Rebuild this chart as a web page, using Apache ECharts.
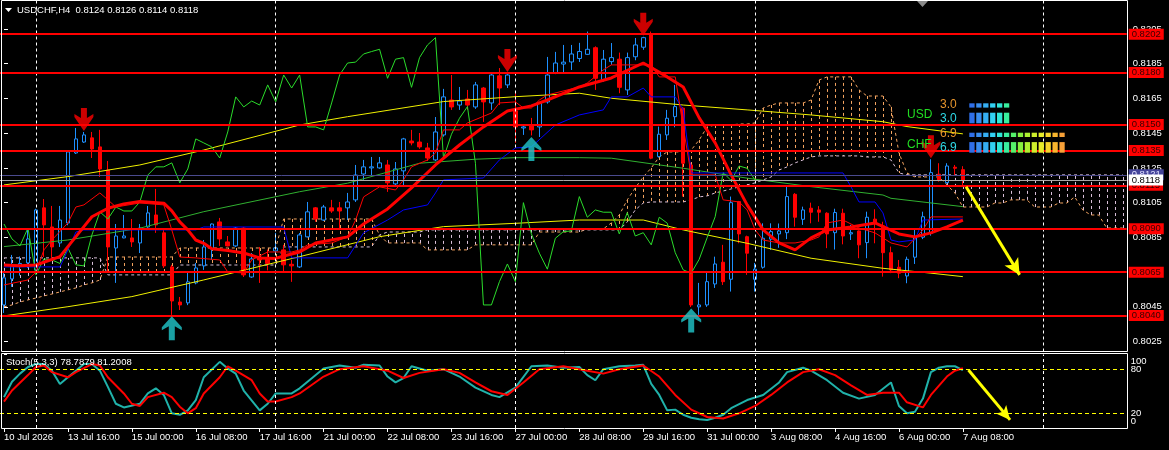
<!DOCTYPE html>
<html><head><meta charset="utf-8"><title>USDCHF H4</title>
<script src="https://cdn.jsdelivr.net/npm/echarts@6/dist/echarts.min.js"></script>
<style>html,body{margin:0;padding:0;background:#000;overflow:hidden}#chart{width:1169px;height:450px}</style>
</head><body><div id="chart"></div>
<script>
// ---------------- data ----------------
const symbolName = 'USDCHF,H4';
const opens = [0.80461,0.80611,0.80686,0.80703,0.80663,0.81020,0.80910,0.80818,0.80933,0.81336,
0.81399,0.81423,0.81371,0.81238,0.80789,0.80847,0.80847,0.80818,0.80910,0.80979,
0.80876,0.80680,0.80478,0.80473,0.80588,0.80686,0.80784,0.80939,0.80824,0.80801,
0.80904,0.80622,0.80737,0.80730,0.80772,0.80778,0.80695,0.80680,0.80853,0.81020,
0.80950,0.81020,0.81020,0.81020,0.81066,0.81215,0.81250,0.81250,0.81267,0.81158,
0.81233,0.81405,0.81399,0.81365,0.81296,0.81440,0.81641,0.81612,0.81647,0.81601,
0.81710,0.81624,0.81780,0.81728,0.81578,0.81480,0.81492,0.81486,0.81630,0.81797,
0.81848,0.81860,0.81880,0.81904,0.81942,0.81756,0.81862,0.81876,0.81699,0.81890,
0.81945,0.82016,0.81315,0.81440,0.81545,0.81594,0.81267,0.80450,0.80461,0.80582,
0.80707,0.80609,0.81056,0.80854,0.80609,0.80678,0.80840,0.80870,0.80877,0.81098,
0.80954,0.81018,0.81008,0.80989,0.80877,0.80989,0.80870,0.80887,0.80820,0.80955,
0.80916,0.80762,0.80678,0.80628,0.80736,0.80851,0.80874,0.81214,0.81165,0.81254,
0.8124];
const highs = [0.80645,0.80749,0.80740,0.80893,0.81015,0.81071,0.81031,0.81031,0.81353,0.81480,
0.81457,0.81457,0.81469,0.81290,0.80927,0.80979,0.80956,0.80927,0.81031,0.81129,
0.80895,0.80692,0.80507,0.80645,0.80703,0.80835,0.80930,0.80962,0.80858,0.80910,
0.80910,0.80760,0.80795,0.80780,0.80876,0.80807,0.80720,0.80875,0.81054,0.81025,
0.81037,0.81066,0.81054,0.81106,0.81267,0.81296,0.81313,0.81313,0.81296,0.81284,
0.81423,0.81469,0.81451,0.81394,0.81543,0.81705,0.81785,0.81716,0.81699,0.81745,
0.81716,0.81802,0.81825,0.81797,0.81687,0.81497,0.81538,0.81630,0.81889,0.81918,
0.81958,0.81958,0.81970,0.82035,0.81950,0.81929,0.81969,0.81914,0.81914,0.81998,
0.82005,0.82035,0.81488,0.81584,0.81728,0.81600,0.81280,0.80588,0.80645,0.80739,
0.80807,0.81085,0.81060,0.80860,0.80703,0.80931,0.80931,0.80930,0.81142,0.81105,
0.81027,0.81050,0.81030,0.80995,0.81015,0.81015,0.80922,0.80890,0.80998,0.81012,
0.80940,0.80797,0.80720,0.80739,0.80893,0.80998,0.81300,0.81277,0.81277,0.81267,
0.8126];
const lows = [0.80415,0.80565,0.80630,0.80674,0.80650,0.80737,0.80732,0.80795,0.80920,0.81330,
0.81394,0.81307,0.81198,0.80645,0.80588,0.80845,0.80795,0.80760,0.80905,0.80876,
0.80674,0.80404,0.80432,0.80460,0.80580,0.80663,0.80720,0.80801,0.80798,0.80795,
0.80622,0.80617,0.80588,0.80660,0.80765,0.80645,0.80594,0.80674,0.80850,0.80940,
0.80945,0.80991,0.80893,0.80950,0.81054,0.81181,0.81198,0.81245,0.81112,0.81150,
0.81140,0.81380,0.81360,0.81290,0.81290,0.81430,0.81584,0.81584,0.81584,0.81590,
0.81515,0.81584,0.81612,0.81710,0.81394,0.81440,0.81437,0.81428,0.81620,0.81790,
0.81802,0.81814,0.81860,0.81900,0.81699,0.81747,0.81843,0.81680,0.81670,0.81870,
0.81930,0.81300,0.81310,0.81411,0.81484,0.81085,0.80449,0.80404,0.80450,0.80559,
0.80576,0.80538,0.80816,0.80634,0.80538,0.80670,0.80778,0.80790,0.80840,0.80912,
0.80922,0.80931,0.80940,0.80788,0.80780,0.80810,0.80835,0.80730,0.80730,0.80816,
0.80624,0.80644,0.80615,0.80586,0.80697,0.80840,0.80860,0.81171,0.81160,0.81209,
0.8114];
const closes = [0.80617,0.80686,0.80700,0.80841,0.81008,0.80922,0.80795,0.80950,0.81342,0.81417,
0.81440,0.81359,0.81244,0.80795,0.80858,0.80858,0.80824,0.80904,0.80991,0.80922,
0.80686,0.80484,0.80461,0.80594,0.80674,0.80795,0.80927,0.80841,0.80801,0.80904,
0.80634,0.80726,0.80720,0.80700,0.80789,0.80692,0.80686,0.80864,0.80997,0.80956,
0.81025,0.81002,0.81002,0.81054,0.81209,0.81256,0.81256,0.81279,0.81164,0.81244,
0.81417,0.81394,0.81371,0.81307,0.81457,0.81659,0.81601,0.81635,0.81612,0.81728,
0.81630,0.81785,0.81710,0.81785,0.81486,0.81486,0.81469,0.81624,0.81785,0.81854,
0.81859,0.81906,0.81920,0.81933,0.81766,0.81876,0.81885,0.81714,0.81885,0.81958,
0.82000,0.81306,0.81444,0.81536,0.81603,0.81277,0.80461,0.80461,0.80595,0.80697,
0.80595,0.81050,0.80870,0.80759,0.80667,0.80845,0.80883,0.80887,0.81085,0.80966,
0.81008,0.80995,0.80995,0.80870,0.80993,0.80858,0.80877,0.80807,0.80966,0.80932,
0.80762,0.80663,0.80644,0.80724,0.80849,0.80969,0.81223,0.81177,0.81261,0.81248,
0.8118];

const tickLabels = ['10 Jul 2026','13 Jul 16:00','15 Jul 00:00','16 Jul 08:00','17 Jul 16:00','21 Jul 00:00',
'22 Jul 08:00','23 Jul 16:00','27 Jul 00:00','28 Jul 08:00','29 Jul 16:00','31 Jul 00:00',
'3 Aug 08:00','4 Aug 16:00','6 Aug 00:00','7 Aug 08:00'];
const priceTicks = [0.8205,0.8185,0.8165,0.8145,0.8125,0.8105,0.8085,0.8065,0.8045,0.8025];
const levels = [0.8202,0.8180,0.8150,0.8135,0.8115,0.8090,0.8065,0.8040];
const askPrice = 0.8121;
const bidPrice = 0.8118;
const weekSeparators = [4,34,64,94,130];
const sellArrows = [10,63,80,116];
const buyArrows = [21,66,86];

// thick moving average  [bar, price]
const maThick = [[0,0.80691],[2,0.80687],[4,0.80691],[7,0.80739],[8,0.80797],[10,0.80912],[11,0.80969],
[13,0.81018],[15,0.81043],[17,0.81056],[20,0.81047],[21,0.81003],[22,0.80939],[23,0.80893],[24,0.80835],
[25,0.80816],[26,0.80784],[28,0.80775],[30,0.80760],[32,0.80732],[34,0.80729],[35,0.80743],[37,0.80766],
[39,0.80818],[43,0.80853],[45,0.80927],[48,0.81014],[51,0.81135],[54,0.81267],[57,0.81382],[60,0.81486],
[63,0.81578],[66,0.81607],[68,0.81641],[72,0.81716],[76,0.81768],[80,0.81854],[83,0.81774],[85,0.81716],
[87,0.81538],[89,0.81394],[91,0.81210],[93,0.81037],[95,0.80893],[97,0.80818],[99,0.80778],[101,0.80847],
[103,0.80893],[106,0.80910],[109,0.80933],[112,0.80870],[114,0.80853],[116,0.80876],[118,0.80910],[120,0.80950]];
// Tenkan-sen (thin red)
const tenkan = [[0,0.80576],[3,0.80605],[4,0.80651],[5,0.80778],[6,0.80835],[8,0.80933],[9,0.81025],[10,0.81037],
[12,0.81106],[13,0.81066],[14,0.81025],[17,0.81048],[20,0.81037],[21,0.80893],[22,0.80737],[24,0.80732],
[27,0.80720],[28,0.80651],[30,0.80645],[31,0.80720],[33,0.80766],[36,0.80766],[37,0.80778],[38,0.80807],
[41,0.80818],[43,0.80853],[44,0.80950],[45,0.81083],[47,0.81141],[49,0.81123],[50,0.81181],[51,0.81256],
[53,0.81296],[54,0.81336],[55,0.81469],[57,0.81469],[58,0.81509],[61,0.81566],[62,0.81624],[64,0.81630],
[65,0.81595],[66,0.81595],[67,0.81641],[68,0.81670],[72,0.81716],[73,0.81739],[75,0.81814],[76,0.81843],
[81,0.81843],[82,0.81774],[84,0.81774],[85,0.81486],[86,0.81210],[89,0.81210],[90,0.81066],[92,0.81054],
[93,0.81008],[94,0.80893],[95,0.80835],[97,0.80818],[99,0.80818],[101,0.80835],[102,0.80853],[103,0.80933],
[105,0.80950],[107,0.80904],[109,0.80876],[111,0.80818],[113,0.80795],[115,0.80893],[116,0.80968],[120,0.80968]];
// Kijun-sen (blue)
const kijun = [[0,0.80680],[7,0.80680],[8,0.80778],[9,0.80881],[10,0.80893],[24,0.80893],[25,0.80910],[35,0.80910],
[36,0.80732],[43,0.80732],[45,0.80876],[48,0.80950],[50,0.81008],[53,0.81037],[54,0.81106],[55,0.81181],
[60,0.81192],[62,0.81296],[64,0.81365],[66,0.81371],[69,0.81497],[72,0.81555],[75,0.81584],[76,0.81659],
[78,0.81659],[80,0.81710],[81,0.81659],[84,0.81659],[85,0.81584],[86,0.81221],[105,0.81221],[106,0.81141],
[107,0.81054],[109,0.81054],[110,0.80991],[111,0.80835],[112,0.80824],[114,0.80835],[115,0.80950],[120,0.80956]];
// envelope / band lines
const bandUpper = [[0,0.81152],[8,0.81200],[17,0.81267],[25,0.81353],[37,0.81497],[43,0.81545],[55,0.81632],
[64,0.81660],[72,0.81680],[76,0.81651],[85,0.81612],[93,0.81584],[101,0.81555],[110,0.81516],[113,0.81488],[120,0.81446]];
const bandMid = [[0,0.80797],[8,0.80835],[17,0.80903],[25,0.80998],[37,0.81113],[43,0.81162],[52,0.81277],
[59,0.81300],[64,0.81309],[72,0.81309],[76,0.81306],[85,0.81248],[93,0.81191],[101,0.81142],[110,0.81094],[111,0.81075],[120,0.81027]];
const bandLower = [[0,0.80398],[8,0.80451],[16,0.80509],[25,0.80605],[37,0.80739],[47,0.80854],[55,0.80912],
[64,0.80931],[72,0.80950],[80,0.80950],[85,0.80893],[93,0.80816],[101,0.80730],[110,0.80672],[116,0.80644],[120,0.80624]];
// Senkou span A / B, one value per bar (incl. 20 future bars)
const senkouA = [0.80450,0.80461,0.80478,0.80490,0.80501,0.80513,0.80524,0.80536,0.80548,0.80559,
0.80576,0.80588,0.80605,0.80737,0.80737,0.80737,0.80737,0.80737,0.80737,0.80737,
0.80737,0.80737,0.80789,0.80789,0.80789,0.80789,0.80789,0.80789,0.80789,0.80789,
0.80789,0.80789,0.80789,0.80789,0.80789,0.80956,0.80956,0.80956,0.80956,0.80956,
0.80956,0.80956,0.80956,0.80956,0.80956,0.80956,0.80956,0.80864,0.80818,0.80818,
0.80818,0.80818,0.80818,0.80778,0.80778,0.80778,0.80778,0.80778,0.80778,0.80807,
0.80807,0.80807,0.80807,0.80807,0.80807,0.80807,0.80807,0.80881,0.80881,0.80881,
0.80881,0.80881,0.80881,0.80899,0.80899,0.80899,0.80933,0.80979,0.81066,0.81135,
0.81198,0.81250,0.81313,0.81342,0.81342,0.81342,0.81353,0.81411,0.81486,0.81497,
0.81497,0.81497,0.81503,0.81503,0.81509,0.81595,0.81612,0.81624,0.81624,0.81624,
0.81624,0.81641,0.81756,0.81774,0.81774,0.81774,0.81774,0.81699,0.81664,0.81664,
0.81664,0.81601,0.81336,0.81221,0.81198,0.81198,0.81198,0.81198,0.81152,0.81106,
0.81025,0.81025,0.81025,0.81025,0.81048,0.81048,0.81066,0.81066,0.81066,0.81025,
0.81025,0.81025,0.81048,0.81048,0.81083,0.81008,0.80979,0.80979,0.80904,0.80904,
0.80904];
const senkouB = [0.80732,0.80732,0.80732,0.80732,0.80732,0.80732,0.80732,0.80732,0.80732,0.80732,
0.80732,0.80732,0.80732,0.80634,0.80634,0.80634,0.80634,0.80634,0.80634,0.80634,
0.80634,0.80634,0.80691,0.80691,0.80691,0.80691,0.80691,0.80691,0.80691,0.80691,
0.80691,0.80691,0.80691,0.80691,0.80691,0.80795,0.80795,0.80795,0.80795,0.80795,
0.80795,0.80795,0.80795,0.80795,0.80795,0.80795,0.80795,0.80864,0.80881,0.80881,
0.80881,0.80881,0.80881,0.80893,0.80893,0.80893,0.80893,0.80893,0.80893,0.80893,
0.80893,0.80893,0.80893,0.80893,0.80893,0.80893,0.80893,0.80893,0.80893,0.80893,
0.80893,0.80893,0.80893,0.80893,0.80893,0.80893,0.80893,0.80893,0.80939,0.81008,
0.81048,0.81054,0.81054,0.81054,0.81054,0.81054,0.81066,0.81083,0.81089,0.81106,
0.81117,0.81129,0.81141,0.81152,0.81164,0.81181,0.81198,0.81238,0.81256,0.81279,
0.81296,0.81313,0.81319,0.81319,0.81319,0.81319,0.81319,0.81319,0.81313,0.81313,
0.81313,0.81296,0.81221,0.81210,0.81210,0.81210,0.81210,0.81210,0.81210,0.81210,
0.81210,0.81210,0.81210,0.81210,0.81210,0.81210,0.81210,0.81210,0.81210,0.81210,
0.81210,0.81210,0.81210,0.81210,0.81210,0.81210,0.81210,0.81210,0.81210,0.81210,
0.81210];
// Stochastic (5,3,3)  [bar, value]
const stochK = [[0,42],[1,63],[2,74],[3,83],[4,87],[5,87],[6,78],[7,60],[8,69],[9,78],[10,87],[11,87],[12,78],
[13,56],[14,33],[15,28],[17,33],[18,47],[19,54],[20,45],[21,20],[22,18],[23,24],[24,38],[25,69],[27,90],[28,81],
[29,74],[30,51],[32,24],[33,33],[34,47],[36,47],[37,54],[40,81],[42,85],[44,82],[45,86],[47,85],[48,70],[49,62],
[50,68],[51,84],[53,78],[55,80],[57,70],[59,55],[61,45],[62,42],[64,55],[66,84],[68,85],[70,82],[72,83],[73,72],
[74,65],[75,80],[77,84],[79,85],[80,86],[81,60],[82,45],[83,24],[84,25],[85,18],[86,14],[87,12],[88,11],[89,14],
[90,18],[91,27],[93,38],[95,45],[97,62],[98,76],[100,82],[101,78],[103,65],[105,48],[107,40],[109,45],[111,62],
[112,30],[113,20],[114,22],[115,40],[116,76],[117,82],[118,84],[119,84],[120,78.7879]];
const stochD = [[0,36],[1,51],[3,72],[4,83],[5,85],[6,76],[8,69],[9,76],[11,87],[12,85],[13,69],[15,47],[16,33],
[17,30],[18,42],[20,48],[21,42],[22,29],[23,20],[24,27],[25,47],[27,69],[28,84],[29,78],[31,65],[32,47],[33,36],
[34,36],[36,42],[37,47],[40,70],[42,80],[45,84],[48,78],[50,68],[52,75],[55,80],[57,75],[59,62],[61,50],[63,45],
[65,62],[67,80],[70,84],[73,78],[75,74],[77,80],[80,85],[82,70],[84,45],[86,25],[88,15],[90,13],[92,20],[94,30],
[96,45],[98,62],[100,76],[102,80],[104,72],[106,58],[108,45],[110,48],[112,48],[113,35],[115,28],[116,45],
[118,70],[119,78],[120,81.2008]];
const stochLevels = [80,20];
// scale label positions of the oscillator window: [position, text]
const stochLevelLabels = [20,80];
const stochEndLabels = [[9,'0'],[91,'100']];
// forecast arrows  [bar, value]
const forecastMain = [[120.4,0.81141],[127.1,0.80634]];
const forecastStoch = [[120.7,79],[125.9,11]];
// currency strength meter
const currencies = ['USD','CHF'];
const strengthValues = [3.0,6.9];

// ---------------- chart ----------------
const FONT = '"Liberation Sans", Arial, sans-serif';
const N = 141;
const cats = Array.from({length:N},(_,i)=>String(i));
const labelIdx = idx => idx % 8 === 0 && idx/8 < tickLabels.length;
const candleData = opens.map((o,i)=>[o,closes[i],lows[i],highs[i]]);
const chikou = closes.map((c,i)=>[i-26,c]).filter(p=>p[0]>=0);
const cloudData = senkouA.map((a,i)=>[i,a,senkouB[i]]);

function lineSeries(data,color,width,extra){
  return Object.assign({type:'line',xAxisIndex:0,yAxisIndex:0,data,symbol:'none',silent:true,
    animation:false,lineStyle:{color,width},itemStyle:{color},z:3},extra||{});
}
const sepLines = weekSeparators.map(i=>({xAxis:i}));
const sepStyle = {color:'#ffffff',width:1,type:[3,3]};

const levelLabel = {show:true,position:'end',distance:2,formatter:p=>p.value.toFixed(4),
  backgroundColor:'#ff0000',color:'#3a0000',fontSize:9.5,fontFamily:FONT,padding:[1,3,0,3],lineHeight:10};
const priceMarks = levels.map(v=>({yAxis:v,lineStyle:{color:'#ff0000',width:2,type:'solid'},label:levelLabel}));
priceMarks.push({yAxis:askPrice,lineStyle:{color:'#4a4a8e',width:1,type:'solid'},
  label:Object.assign({},levelLabel,{backgroundColor:'#44449a',color:'#e0e0ff'})});
priceMarks.push({yAxis:bidPrice,lineStyle:{color:'#a8a8a8',width:1,type:'solid'},
  label:Object.assign({},levelLabel,{backgroundColor:'#ffffff',color:'#000000'})});

const blockColors = ['#2f6fe8','#3a8ef0','#35aef2','#32d0f2','#30e6d6','#38ee9e','#55f06a','#86f03e',
  '#aef030','#cdee2c','#e8ec28','#f6d42a','#f8b62e','#f6a038'];
const graphics = [
  {type:'rect',shape:{x:1.5,y:0.5,width:1126,height:351},style:{fill:'none',stroke:'#ffffff',lineWidth:1},z:100,silent:true},
  {type:'rect',shape:{x:1.5,y:353.5,width:1126,height:75},style:{fill:'none',stroke:'#ffffff',lineWidth:1},z:100,silent:true},
  {type:'polygon',shape:{points:[[5,8],[12,8],[8.5,12]]},style:{fill:'#ffffff'},z:100,silent:true},
  {type:'polygon',shape:{points:[[917,1],[928,1],[922.5,7]]},style:{fill:'#8a8a8a'},z:100,silent:true},
  {type:'text',x:17,y:10,style:{text:symbolName+'  '+[opens[120],highs[120],lows[120],closes[120]].map(v=>v.toFixed(4)).join(' '),
    fill:'#ffffff',font:'9.5px '+FONT,align:'left',verticalAlign:'middle',textAlign:'left',textVerticalAlign:'middle'},z:100,silent:true},
  {type:'text',x:6,y:362,style:{text:'Stoch(5,3,3) '+stochK[stochK.length-1][1].toFixed(4)+' '+stochD[stochD.length-1][1].toFixed(4),
    fill:'#ffffff',font:'9.5px '+FONT,align:'left',verticalAlign:'middle',textAlign:'left',textVerticalAlign:'middle'},z:100,silent:true}
];
currencies.forEach((cur,k)=>{
  const dy = k*29.4;
  const val = strengthValues[k];
  const n = Math.round(val*2);
  graphics.push({type:'text',x:907,y:115+dy,style:{text:cur,fill:'#22dd22',font:'12px '+FONT,align:'left',verticalAlign:'middle',textAlign:'left',textVerticalAlign:'middle'},z:100,silent:true});
  graphics.push({type:'text',x:940,y:104.5+dy,style:{text:val.toFixed(1),fill:'#e8952c',font:'12px '+FONT,align:'left',verticalAlign:'middle',textAlign:'left',textVerticalAlign:'middle'},z:100,silent:true});
  graphics.push({type:'text',x:940,y:118.5+dy,style:{text:val.toFixed(1),fill:'#2ed8e6',font:'12px '+FONT,align:'left',verticalAlign:'middle',textAlign:'left',textVerticalAlign:'middle'},z:100,silent:true});
  for(let j=0;j<n;j++){
    const x = 969.3 + j*6.93;
    graphics.push({type:'rect',shape:{x:x,y:103.3+dy,width:5.3,height:4.3},style:{fill:blockColors[j]},z:100,silent:true});
    graphics.push({type:'rect',shape:{x:x,y:112.7+dy,width:5.3,height:10.6},style:{fill:blockColors[j]},z:100,silent:true});
  }
});

const endText = {};
stochEndLabels.forEach(s=>{endText[s[0]]=s[1];});
const stochAxisBase = {type:'value',gridIndex:1,position:'right',min:0,max:100,axisLine:{show:false},splitLine:{show:false}};

const chart = echarts.init(document.getElementById('chart'),null,{renderer:'canvas'});
const option = {
  backgroundColor:'#000000',
  animation:false,
  grid:[{left:-1.3,width:1128,top:1,height:350.5},{left:-1.3,width:1128,top:354.5,height:73.5}],
  xAxis:[
    {type:'category',gridIndex:0,data:cats,boundaryGap:true,axisLine:{show:false},axisTick:{show:false},axisLabel:{show:false},splitLine:{show:false}},
    {type:'category',gridIndex:1,data:cats,boundaryGap:true,axisLine:{show:false},
      axisTick:{show:true,alignWithLabel:true,interval:labelIdx,length:4,lineStyle:{color:'#ffffff'}},
      axisLabel:{interval:labelIdx,formatter:(v,idx)=>tickLabels[idx/8]||'',color:'#ffffff',fontSize:9.5,fontFamily:FONT,align:'left',margin:4},
      splitLine:{show:false}},
    {type:'value',gridIndex:0,min:-0.5,max:N-0.5,show:false},
    {type:'value',gridIndex:1,min:-0.5,max:N-0.5,show:false}
  ],
  yAxis:[
    {type:'value',gridIndex:0,position:'right',min:0.80193,max:0.82211,axisLine:{show:false},
      axisTick:{show:true,customValues:priceTicks,length:4,lineStyle:{color:'#ffffff'}},
      axisLabel:{customValues:priceTicks,formatter:v=>v.toFixed(4),color:'#ffffff',fontSize:9.5,fontFamily:FONT,margin:6,hideOverlap:false},
      splitLine:{show:false}},
    Object.assign({},stochAxisBase,{
      axisTick:{show:true,customValues:[0,100],length:3,lineStyle:{color:'#ffffff'}},
      axisLabel:{customValues:stochLevelLabels,formatter:v=>String(v),color:'#ffffff',fontSize:9.5,fontFamily:FONT,margin:4,hideOverlap:false}}),
    Object.assign({},stochAxisBase,{offset:0,
      axisTick:{show:false},
      axisLabel:{customValues:stochEndLabels.map(s=>s[0]),formatter:v=>endText[v]||'',color:'#ffffff',fontSize:9.5,fontFamily:FONT,margin:4,hideOverlap:false}})
  ],
  series:[
    {type:'custom',xAxisIndex:0,yAxisIndex:0,data:cloudData,silent:true,z:1,encode:{x:0,y:[1,2]},
      renderItem:(params,api)=>{
        const i=api.value(0),a=api.value(1),b=api.value(2);
        const p1=api.coord([i,a]),p2=api.coord([i,b]);
        const x=Math.round(p1[0])+0.5;
        return {type:'line',shape:{x1:x,y1:p1[1],x2:x,y2:p2[1]},
          style:{stroke:a>=b?'#f4a460':'#d8bfd8',lineWidth:1,lineDash:[3,3]},silent:true};
      }},
    lineSeries(senkouA.map((v,i)=>[i,v]),'#f4a460',1,{lineStyle:{color:'#f4a460',width:1,type:[3,3]},z:2,
      markLine:{silent:true,symbol:'none',label:{show:false},lineStyle:sepStyle,data:sepLines}}),
    lineSeries(senkouB.map((v,i)=>[i,v]),'#d8bfd8',1,{lineStyle:{color:'#d8bfd8',width:1,type:[3,3]},z:2}),
    {type:'candlestick',xAxisIndex:0,yAxisIndex:0,data:candleData,barWidth:4,silent:true,z:2,
      itemStyle:{color:'#000000',color0:'#ff0000',borderColor:'#1e90ff',borderColor0:'#ff0000',borderColorDoji:'#1e90ff',borderWidth:1}},
    lineSeries(bandUpper,'#f0f000',1),
    lineSeries(bandLower,'#f0f000',1),
    lineSeries(bandMid,'#30b030',1),
    lineSeries(chikou,'#2bdc2b',1),
    lineSeries(kijun,'#0000ff',1),
    lineSeries(tenkan,'#ff0000',1),
    lineSeries(maThick,'#ff0000',3,{z:4,markLine:{silent:true,symbol:'none',precision:4,data:priceMarks}}),
    {type:'scatter',xAxisIndex:0,yAxisIndex:0,data:sellArrows.map(i=>[i,highs[i]]),silent:true,z:6,
      symbol:'path://M6.5,0L12.5,0L12.5,10L19,6L19,9L9.5,23L0,9L0,6L6.5,10Z',symbolSize:[19,23],symbolOffset:[0,-12.5],
      itemStyle:{color:'#ff0000'}},
    {type:'scatter',xAxisIndex:0,yAxisIndex:0,data:buyArrows.map(i=>[i,lows[i]]),silent:true,z:6,
      symbol:'path://M10,0L20,11L20,14L13,10L13,24L7,24L7,10L0,14L0,11Z',symbolSize:[20,24],symbolOffset:[0,13.5],
      itemStyle:{color:'#20c8cc'}},
    {type:'line',xAxisIndex:2,yAxisIndex:0,data:forecastMain,symbol:'none',silent:true,lineStyle:{opacity:0},z:7,
      markLine:{silent:true,symbol:['none','arrow'],symbolSize:[12,16],label:{show:false},
        lineStyle:{color:'#ffff00',width:3,type:'solid'},data:[[{coord:forecastMain[0]},{coord:forecastMain[1]}]]}},
    {type:'line',xAxisIndex:1,yAxisIndex:1,data:stochK,symbol:'none',silent:true,lineStyle:{color:'#20b2aa',width:2},z:3,
      markLine:{silent:true,symbol:'none',label:{show:false},data:
        stochLevels.map(v=>({yAxis:v,lineStyle:{color:'#ffff00',width:1,type:[4,3]}})).concat(
        weekSeparators.map(i=>({xAxis:i,lineStyle:sepStyle})))}},
    {type:'line',xAxisIndex:1,yAxisIndex:1,data:stochD,symbol:'none',silent:true,lineStyle:{color:'#ff0000',width:2},z:3},
    {type:'line',xAxisIndex:3,yAxisIndex:1,data:forecastStoch,symbol:'none',silent:true,lineStyle:{opacity:0},z:7,
      markLine:{silent:true,symbol:['none','arrow'],symbolSize:[10,14],label:{show:false},
        lineStyle:{color:'#ffff00',width:3,type:'solid'},data:[[{coord:forecastStoch[0]},{coord:forecastStoch[1]}]]}}
  ],
  graphic:graphics
};
chart.setOption(option);
</script></body></html>
